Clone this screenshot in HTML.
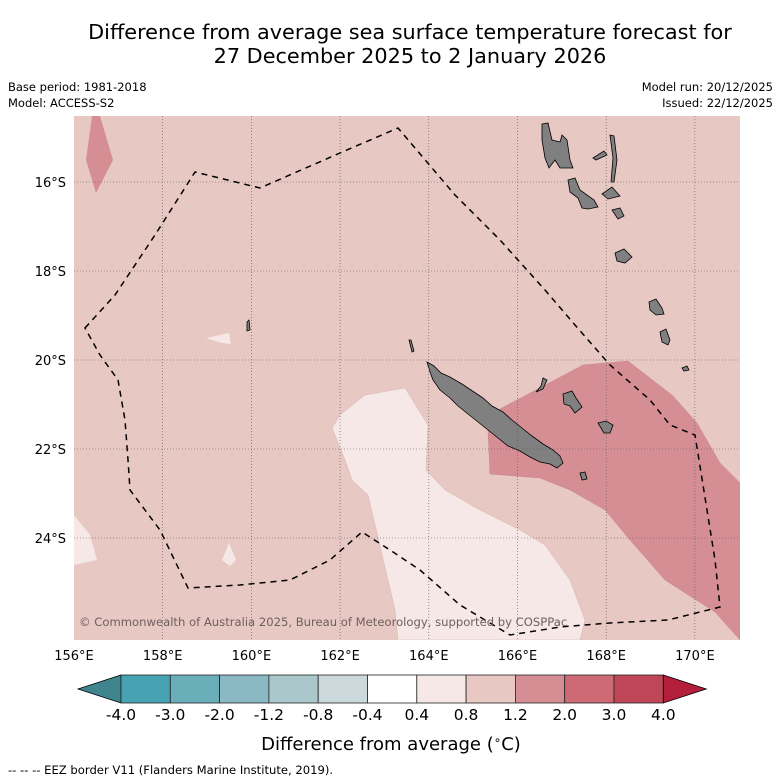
<!DOCTYPE html>
<html><head><meta charset="utf-8"><style>
html,body{margin:0;padding:0;background:#fff;width:781px;height:781px;overflow:hidden}
svg{display:block;font-family:"DejaVu Sans","Liberation Sans",sans-serif}
</style></head><body>
<svg id="chart" width="781" height="781" viewBox="0 0 781 781" xmlns="http://www.w3.org/2000/svg">
<text x="410" y="39" font-size="20.8" text-anchor="middle" fill="#000">Difference from average sea surface temperature forecast for</text>
<text x="410" y="63" font-size="20.8" text-anchor="middle" fill="#000">27 December 2025 to 2 January 2026</text>
<text x="8" y="91" font-size="11.5">Base period: 1981-2018</text>
<text x="8" y="107" font-size="11.5">Model: ACCESS-S2</text>
<text x="773" y="91" font-size="11.5" text-anchor="end">Model run: 20/12/2025</text>
<text x="773" y="107" font-size="11.5" text-anchor="end">Issued: 22/12/2025</text>
<defs><clipPath id="mapclip"><rect x="74" y="116" width="666" height="524"/></clipPath></defs>
<g clip-path="url(#mapclip)">
<rect x="74" y="116" width="666" height="524" fill="#e8c8c3"/>
<polygon fill="#f5e8e6" stroke="#d8b4b0" stroke-width="0.5" points="332,428 345,460 352,480 368,495 395,610 398,640 580,640 585,620 570,580 545,545 520,530 480,510 445,490 426,470 428,425 405,388 365,395 340,415"/>
<polygon fill="#f5e8e6" points="222,560 229,543 236,560 230,566"/>
<polygon fill="#f5e8e6" points="206,338 229,333 231,344 222,343"/>
<polygon fill="#f5e8e6" points="74,515 90,535 97,560 74,565"/>
<polygon fill="#f5e8e6" points="482,604 498,598 516,604 500,607"/>
<polygon fill="#d68e95" points="92,116 100,116 113,160 96,193 86,160"/>
<polygon fill="#d68e95" stroke="#c9848b" stroke-width="0.5" points="488,431 500,409 583,365 628,361 673,396 697,423 720,463 740,483 740,640 715,612 665,580 630,540 605,510 570,490 540,478 490,474"/>
<g fill="#808080" stroke="#000" stroke-width="0.8">
<polygon points="427,362 434,366 441,373 450,377 462,384 471,390 483,398 492,406 503,412 512,420 522,428 532,436 543,444 553,450 560,456 563,463 557,468 550,464 540,462 530,457 520,451 508,446 498,438 488,430 478,422 468,414 458,406 450,398 440,390 433,380 430,372"/>
<polygon points="542,124 548,123 552,140 560,142 562,135 567,140 570,160 573,168 560,168 555,160 549,168 545,158 542,140"/>
<polygon points="568,180 575,178 580,190 594,200 598,207 588,209 582,208 578,198 570,192"/>
<polygon points="602,194 612,187 620,196 608,199"/>
<polygon points="610,135 614,136 617,160 614,182 611,182 613,158"/>
<polygon points="593,158 604,151 607,155 596,160"/>
<polygon points="612,210 620,208 624,216 618,219"/>
<polygon points="615,253 624,249 632,257 625,263 617,261"/>
<polygon points="649,302 656,299 662,308 664,314 656,315 650,310"/>
<polygon points="660,332 666,329 670,340 668,345 662,342"/>
<polygon points="682,368 687,366 689,370 684,371"/>
<polygon points="563,394 572,391 576,398 582,407 575,413 570,406 564,404"/>
<polygon points="598,423 606,421 613,425 610,433 604,433"/>
<polygon points="543,378 547,380 543,389 536,392 541,386"/>
<polygon points="580,473 585,472 587,479 582,480"/>
<polygon points="247,322 249,320 250,330 247,331"/>
<polygon points="409,340 411,340 414,351 412,352"/>
</g>
<g id="grid"></g>
<path fill="none" stroke="#000" stroke-width="1.5" stroke-dasharray="6,5" d="M85,328 L115,295 L155,235 L195,172 L260,188 L340,153 L398,128 L455,195 L500,240 L545,290 L575,325 L610,365 L650,400 L670,425 L695,435 L715,560 L720,607 L668,620 L610,623 L560,627 L510,635 L460,605 L420,570 L390,550 L362,532 L330,560 L290,580 L240,585 L188,588 L160,530 L130,490 L128,460 L125,420 L118,380 L100,355 Z"/>
<text x="79" y="626" font-size="11.6" fill="#6e5f5f">© Commonwealth of Australia 2025, Bureau of Meteorology, supported by COSPPac</text>
</g>
<g id="axes"></g>
<g id="colorbar"></g>
<text x="391" y="750" font-size="18" text-anchor="middle">Difference from average (<tspan font-size="12" dy="-6">∘</tspan><tspan dy="6">C)</tspan></text>
<text x="8" y="774" font-size="11.6">--  --  -- EEZ border V11 (Flanders Marine Institute, 2019).</text>
</svg>
<script>
const lonTicks=[156,158,160,162,164,166,168,170];
const latTicks=[16,18,20,22,24];
const cbLabels=["-4.0","-3.0","-2.0","-1.2","-0.8","-0.4","0.4","0.8","1.2","2.0","3.0","4.0"];
const cbColors=["#47a3b3","#6aaeba","#8bb9c3","#aac8cc","#cbd9dc","#ffffff","#f5e8e6","#e8c8c3","#d68e95","#cd6a74","#bf4656"];
const NS="http://www.w3.org/2000/svg";
const xOf=lon=>74+(lon-156)*44.35;
const yOf=lat=>182+(lat-16)*44.5;
function mk(tag,attrs,parent){const e=document.createElementNS(NS,tag);for(const k in attrs)e.setAttribute(k,attrs[k]);parent.appendChild(e);return e;}
const grid=document.getElementById('grid'),axes=document.getElementById('axes'),cb=document.getElementById('colorbar');
lonTicks.forEach(l=>{const x=xOf(l);
 if(l>156){const g=mk('line',{x1:x,x2:x,y1:116,y2:640,stroke:'#555','stroke-width':0.6,'stroke-dasharray':'1,2'},grid);
 
 }
 const t=mk('text',{x:x,y:660,'font-size':13,'text-anchor':'middle'},axes);t.textContent=l+'°E';
 
 });
latTicks.forEach(l=>{const y=yOf(l);
 const g=mk('line',{x1:74,x2:740,y1:y,y2:y,stroke:'#555','stroke-width':0.6,'stroke-dasharray':'1,2'},grid);
 
 
 const t=mk('text',{x:66,y:y+5,'font-size':13,'text-anchor':'end'},axes);t.textContent=l+'°S';
 
 });
const cx0=121,cw=49.3,cy=675,ch=28;
const lt=mk('polygon',{points:`${cx0},${cy} 78,${cy+ch/2} ${cx0},${cy+ch}`,fill:'#3f8590',stroke:'#000','stroke-width':0.8},cb);


cbColors.forEach((c,i)=>{const r=mk('rect',{x:cx0+i*cw,y:cy,width:cw,height:ch,fill:c,stroke:'#222','stroke-width':0.8},cb);
 
 });
const xe=cx0+cbColors.length*cw;
const rt=mk('polygon',{points:`${xe},${cy} ${xe+43},${cy+ch/2} ${xe},${cy+ch}`,fill:'#b31f3b',stroke:'#000','stroke-width':0.8},cb);


cbLabels.forEach((s,i)=>{const t=mk('text',{x:cx0+i*cw,y:720,'font-size':15.5,'text-anchor':'middle'},cb);t.textContent=s;
 
 });
</script>
</body></html>
